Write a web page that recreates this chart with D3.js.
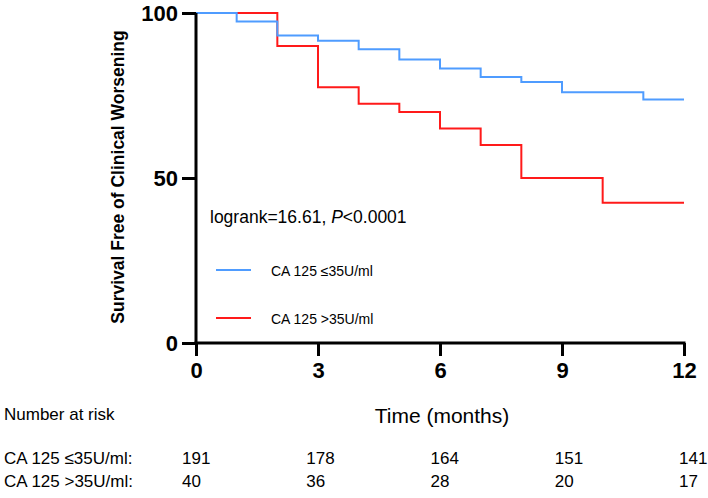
<!DOCTYPE html>
<html>
<head>
<meta charset="utf-8">
<script src="https://cdn.jsdelivr.net/npm/d3@7"></script>
<style>
  html, body { margin: 0; padding: 0; background: #fff; }
  svg { display: block; font-family: Arial, "Liberation Sans", sans-serif; }
</style>
</head>
<body>
<svg id="chart" width="708" height="498"></svg>
<script>
// ---- data ----
const lowTimes = [0, 1, 2, 3, 4, 5, 6, 7, 8, 9, 11, 12];
const lowSurvival = [100, 97.4, 93.2, 91.6, 89.0, 85.9, 83.2, 80.6, 79.1, 76.0, 73.8, 73.8];
const highTimes = [0, 2, 3, 4, 5, 6, 7, 8, 10, 12];
const highSurvival = [100, 90, 77.5, 72.5, 70, 65, 60, 50, 42.5, 42.5];
const seriesNames = ["CA 125 \u226435U/ml", "CA 125 >35U/ml"];
const xTicks = [0, 3, 6, 9, 12];
const yTicks = [0, 50, 100];
const riskTimes = [0, 3, 6, 9, 12];
const riskLow = [191, 178, 164, 151, 141];
const riskHigh = [40, 36, 28, 20, 17];
const statText = "logrank=16.61, ";

const blue = "#4f9cff", red = "#ff1a1a";

const svg = d3.select("#chart");
const x = d3.scaleLinear().domain([0, 12]).range([196, 684]);
const y = d3.scaleLinear().domain([0, 100]).range([343, 13]);

const line = d3.line().x((d) => x(d[0])).y((d) => y(d[1])).curve(d3.curveStepAfter);
const highData = highTimes.map((t, i) => [t, highSurvival[i]]);
const lowData = lowTimes.map((t, i) => [t, lowSurvival[i]]);

svg.append("path").datum(highData).attr("d", line)
  .attr("fill", "none").attr("stroke", red).attr("stroke-width", 2);
svg.append("path").datum(lowData).attr("d", line)
  .attr("fill", "none").attr("stroke", blue).attr("stroke-width", 2);

// axes
const yAxis = svg.append("g").attr("transform", `translate(${x(0)},0)`)
  .call(d3.axisLeft(y).tickValues(yTicks).tickSize(14).tickPadding(4).tickSizeOuter(0));
const xAxis = svg.append("g").attr("transform", `translate(0,${y(0)})`)
  .call(d3.axisBottom(x).tickValues(xTicks).tickSize(13).tickPadding(6).tickSizeOuter(0));
[yAxis, xAxis].forEach((g) => {
  g.select(".domain").attr("stroke", "#000").attr("stroke-width", 3);
  g.selectAll(".tick line").attr("stroke", "#000").attr("stroke-width", 3);
  g.selectAll(".tick text").attr("fill", "#000")
    .style("font-size", "22px").style("font-weight", "bold")
    .style("font-family", "Arial, 'Liberation Sans', sans-serif");
});
yAxis.select(".domain").attr("d", `M0,${y(100)}V${y(0) + 1.5}`);
xAxis.select(".domain").attr("d", `M${x(0) - 1.5},0H${x(12) + 1.5}`);
xAxis.selectAll(".tick text").attr("dy", "0.71em");

// axis titles
svg.append("text")
  .attr("transform", `translate(124,${(y(0) + y(100)) / 2 - 1}) rotate(-90)`)
  .attr("text-anchor", "middle")
  .style("font-size", "17.5px").style("font-weight", "bold")
  .text("Survival Free of Clinical Worsening");

svg.append("text").attr("x", 442).attr("y", 423)
  .attr("text-anchor", "middle").style("font-size", "21px")
  .text("Time (months)");

// statistic annotation
const st = svg.append("text").attr("x", 210).attr("y", 223).style("font-size", "17.5px");
st.append("tspan").text(statText);
st.append("tspan").style("font-style", "italic").text("P");
st.append("tspan").text("<0.0001");

// legend
const legend = svg.append("g");
[[seriesNames[0], blue, 270], [seriesNames[1], red, 318]].forEach(([name, c, ly]) => {
  legend.append("line").attr("x1", 216).attr("x2", 251).attr("y1", ly).attr("y2", ly)
    .attr("stroke", c).attr("stroke-width", 2);
  legend.append("text").attr("x", 271).attr("y", ly + 5.5).style("font-size", "14px").text(name);
});

// number at risk table
const riskX = d3.scaleLinear().domain([0, 12]).range([182, 679]);
svg.append("text").attr("x", 4).attr("y", 420).style("font-size", "17px").text("Number at risk");
const rows = [[seriesNames[0] + ":", riskLow, 464], [seriesNames[1] + ":", riskHigh, 487]];
rows.forEach(([label, vals, ry]) => {
  svg.append("text").attr("x", 4).attr("y", ry).style("font-size", "17px").text(label);
  svg.selectAll(null).data(vals).enter().append("text")
    .attr("x", (d, i) => riskX(riskTimes[i])).attr("y", ry)
    .style("font-size", "17px").text((d) => d);
});
</script>
</body>
</html>
